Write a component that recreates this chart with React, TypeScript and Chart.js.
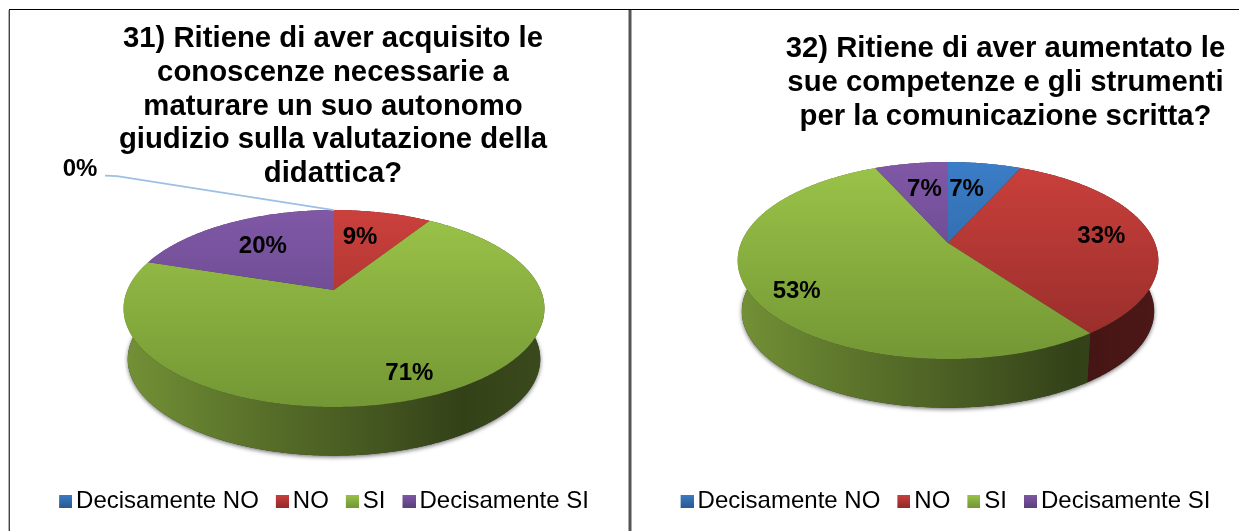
import React, { useEffect, useRef } from "react";
import { Chart, registerables, PieController } from "chart.js";

Chart.register(...registerables);

const categories = ["Decisamente NO", "NO", "SI", "Decisamente SI"];
const valuesLeft = [0, 9, 71, 20];
const valuesRight = [6.7, 33.3, 53.3, 6.7];
const titleLeft = [
  "31) Ritiene di aver acquisito le",
  "conoscenze necessarie a",
  "maturare un suo autonomo",
  "giudizio sulla valutazione della",
  "didattica?",
];
const titleRight = [
  "32) Ritiene di aver aumentato le",
  "sue competenze e gli strumenti",
  "per la comunicazione scritta?",
];
const lightColors = ["#3b7dc7", "#cb403c", "#9bc449", "#8058a6"];
const darkColors = ["#2a5a90", "#932c29", "#739734", "#5c3f80"];
const FONT = "'Liberation Sans', Arial, sans-serif";

type Geo = {
  ax: number; ay: number; w: number; s: number; k: number; d: number; f: number;
  yTop: number; yBottom: number; xLeft: number; xRight: number;
  labelR: number[]; labelDx: number[]; labelDy: number[];
  leader?: number[][];
};

const project = (g: Geo, theta: number, r: number, f = 1, dy = 0) => {
  const u = Math.sin(theta) * r;
  const v = Math.cos(theta) * r;
  const q = 1 + g.k * v;
  return { x: g.ax + (g.w * f * u) / q, y: g.ay + dy - (g.s * f * v) / q };
};

const shade = (hex: string, m: number) => {
  const n = parseInt(hex.slice(1), 16);
  const c = [(n >> 16) & 255, (n >> 8) & 255, n & 255].map((x) => Math.round(x * m));
  return `rgb(${c[0]},${c[1]},${c[2]})`;
};

class Pie3DController extends PieController {
  static id = "pie3d";
  draw() {
    const chart: any = (this as any).chart;
    const ctx: CanvasRenderingContext2D = chart.ctx;
    const meta: any = (this as any).getMeta();
    const g: Geo = chart.options.plugins.pie3dGeo.geo;
    const idx: number = (this as any).index;
    const data: number[] = chart.data.datasets[idx].data;
    const arcs = meta.data.map((a: any, i: number) => ({
      a0: a.startAngle + Math.PI / 2,
      a1: a.endAngle + Math.PI / 2,
      light: lightColors[i],
      dark: darkColors[i],
      value: data[i],
    })).filter((a: any) => a.value > 0);

    const rimPath = (f: number, dy: number, a0: number, a1: number, move: boolean) => {
      const n = Math.max(2, Math.ceil(Math.abs(a1 - a0) / 0.01));
      for (let j = 0; j <= n; j++) {
        const p = project(g, a0 + ((a1 - a0) * j) / n, 1, f, dy);
        if (j === 0 && move) ctx.moveTo(p.x, p.y);
        else ctx.lineTo(p.x, p.y);
      }
    };

    ctx.save();
    // soft contact shadow
    ctx.save();
    ctx.shadowColor = "rgba(0,0,0,0.55)";
    ctx.shadowBlur = 4;
    ctx.shadowOffsetY = 1.5;
    ctx.fillStyle = "#333";
    ctx.beginPath();
    rimPath(g.f, g.d, 0, Math.PI * 2, true);
    ctx.closePath();
    ctx.fill();
    ctx.restore();

    // sides
    for (const a of arcs) {
      const sg = ctx.createLinearGradient(g.xLeft, 0, g.xRight, 0);
      sg.addColorStop(0, shade(a.light, 0.74));
      sg.addColorStop(0.3, shade(a.light, 0.58));
      sg.addColorStop(0.6, shade(a.light, 0.44));
      sg.addColorStop(0.8, shade(a.light, 0.33));
      sg.addColorStop(1, shade(a.light, 0.38));
      ctx.fillStyle = sg;
      ctx.beginPath();
      rimPath(1, 0, a.a0, a.a1, true);
      rimPath(g.f, g.d, a.a1, a.a0, false);
      ctx.closePath();
      ctx.fill();
    }
    // top surface
    for (const a of arcs) {
      const tg = ctx.createLinearGradient(0, g.yTop, 0, g.yBottom);
      tg.addColorStop(0, a.light);
      tg.addColorStop(1, a.dark);
      ctx.fillStyle = tg;
      ctx.beginPath();
      ctx.moveTo(g.ax, g.ay);
      rimPath(1, 0, a.a0, a.a1, false);
      ctx.closePath();
      ctx.fill();
    }
    // labels
    ctx.fillStyle = "#000";
    ctx.font = `bold 24px ${FONT}`;
    ctx.textAlign = "center";
    ctx.textBaseline = "middle";
    meta.data.forEach((a: any, i: number) => {
      const label = `${Math.round(data[i])}%`;
      const mid = (a.startAngle + a.endAngle) / 2 + Math.PI / 2;
      const p = project(g, mid, g.labelR[i]);
      ctx.fillText(label, p.x + g.labelDx[i], p.y + g.labelDy[i]);
      if (data[i] === 0 && g.leader) {
        const rim = project(g, mid, 1);
        ctx.save();
        ctx.strokeStyle = "#9cc0e4";
        ctx.lineWidth = 1.8;
        ctx.beginPath();
        ctx.moveTo(rim.x, rim.y);
        g.leader.forEach((q) => ctx.lineTo(rim.x + q[0], rim.y + q[1]));
        ctx.stroke();
        ctx.restore();
      }
    });
    ctx.restore();
  }
}
Chart.register(Pie3DController as any);

const shiftPlugin = {
  id: "shiftBlocks",
  afterLayout(chart: any, _a: any, opts: any) {
    if (chart.titleBlock) {
      chart.titleBlock.left += opts.titleDx;
      chart.titleBlock.right += opts.titleDx;
      chart.titleBlock.top += opts.titleDy;
      chart.titleBlock.bottom += opts.titleDy;
    }
    if (chart.legend) {
      chart.legend.left += opts.legendDx;
      chart.legend.right += opts.legendDx;
      chart.legend.top += opts.legendDy;
      chart.legend.bottom += opts.legendDy;
    }
  },
};

const makeSwatch = (light: string, dark: string) => {
  const c = document.createElement("canvas");
  c.width = 17;
  c.height = 13;
  const x = c.getContext("2d")!;
  const g = x.createLinearGradient(0, 0, 0, 13);
  g.addColorStop(0, light);
  g.addColorStop(1, dark);
  x.fillStyle = g;
  x.fillRect(4, 0, 13, 13);
  return c;
};

type PanelProps = {
  width: number; height: number;
  values: number[]; title: string[]; geo: Geo;
  titleDx: number; titleDy: number; legendDx: number; legendDy: number;
};

const PieChart = ({ width, height, values, title, geo, titleDx, titleDy, legendDx, legendDy }: PanelProps) => {
  const ref = useRef<HTMLCanvasElement>(null);
  useEffect(() => {
    const swatches = categories.map((_, i) => makeSwatch(lightColors[i], darkColors[i]));
    const chart = new Chart(ref.current!, {
      type: "pie3d" as any,
      data: {
        labels: categories,
        datasets: [{ data: values, backgroundColor: lightColors, borderWidth: 0 }],
      },
      options: {
        responsive: false,
        animation: false,
        layout: { padding: { top: 8, bottom: 0, left: 0, right: 0 } },
        plugins: {
          pie3dGeo: { geo },
          shiftBlocks: { titleDx, titleDy, legendDx, legendDy },
          tooltip: { enabled: false },
          title: {
            display: true,
            text: title,
            color: "#000",
            font: { family: FONT, size: 29.3, weight: "bold", lineHeight: 1.153 },
            padding: { top: 2, bottom: 10 },
          },
          legend: {
            display: true,
            position: "bottom",
            labels: {
              usePointStyle: true,
              boxWidth: 1,
              padding: 21,
              color: "#000",
              font: { family: FONT, size: 24 },
              generateLabels: () =>
                categories.map((text, i) => ({
                  text,
                  fillStyle: lightColors[i],
                  strokeStyle: lightColors[i],
                  lineWidth: 0,
                  pointStyle: swatches[i],
                  hidden: false,
                  index: i,
                })),
            },
          },
        } as any,
      } as any,
      plugins: [shiftPlugin],
    } as any);
    return () => chart.destroy();
  }, []);
  return <canvas ref={ref} width={width} height={height} style={{ display: "block", width, height }} />;
};

const geoLeft: Geo = {
  ax: 324, ay: 279, w: 206.7, s: 95, k: 0.188, d: 51, f: 0.98,
  yTop: 199, yBottom: 396, xLeft: 114, xRight: 535,
  labelR: [1, 0.66, 0.79, 0.643], labelDx: [-254, -8, 11, 0], labelDy: [-41, 1, 1, 1],
  leader: [[-217, -34], [-229, -34.5]],
};
const geoRight: Geo = {
  ax: 316, ay: 232, w: 207, s: 95.4, k: 0.178, d: 51, f: 0.98,
  yTop: 151, yBottom: 348, xLeft: 106, xRight: 527,
  labelR: [0.66, 0.76, 0.8, 0.66], labelDx: [-7, -1, 3, 2], labelDy: [2, 1, 7, 2],
};

const rule = (left: number, top: number, width: number, height: number, background: string): React.CSSProperties => ({
  position: "absolute", left, top, width, height, background,
});

export default function App() {
  return (
    <div style={{ position: "absolute", left: 0, top: 0, width: 1239, height: 531, overflow: "hidden", background: "#fff" }}>
      <div style={{ position: "absolute", left: 10, top: 11 }}>
        <PieChart width={618} height={520} values={valuesLeft} title={titleLeft} geo={geoLeft} titleDx={14} titleDy={1} legendDx={7} legendDy={-8} />
      </div>
      <div style={{ position: "absolute", left: 632, top: 11 }}>
        <PieChart width={607} height={520} values={valuesRight} title={titleRight} geo={geoRight} titleDx={70} titleDy={11} legendDx={12} legendDy={-8} />
      </div>
      <div style={rule(9, 9, 1230, 1, "#000")} />
      <div style={rule(8, 10, 1, 521, "#b0b0b0")} />
      <div style={rule(9, 10, 1, 521, "#444")} />
      <div style={rule(628, 10, 1, 521, "#aaa")} />
      <div style={rule(629, 10, 2, 521, "#555")} />
      <div style={rule(631, 10, 1, 521, "#aaa")} />
    </div>
  );
}
